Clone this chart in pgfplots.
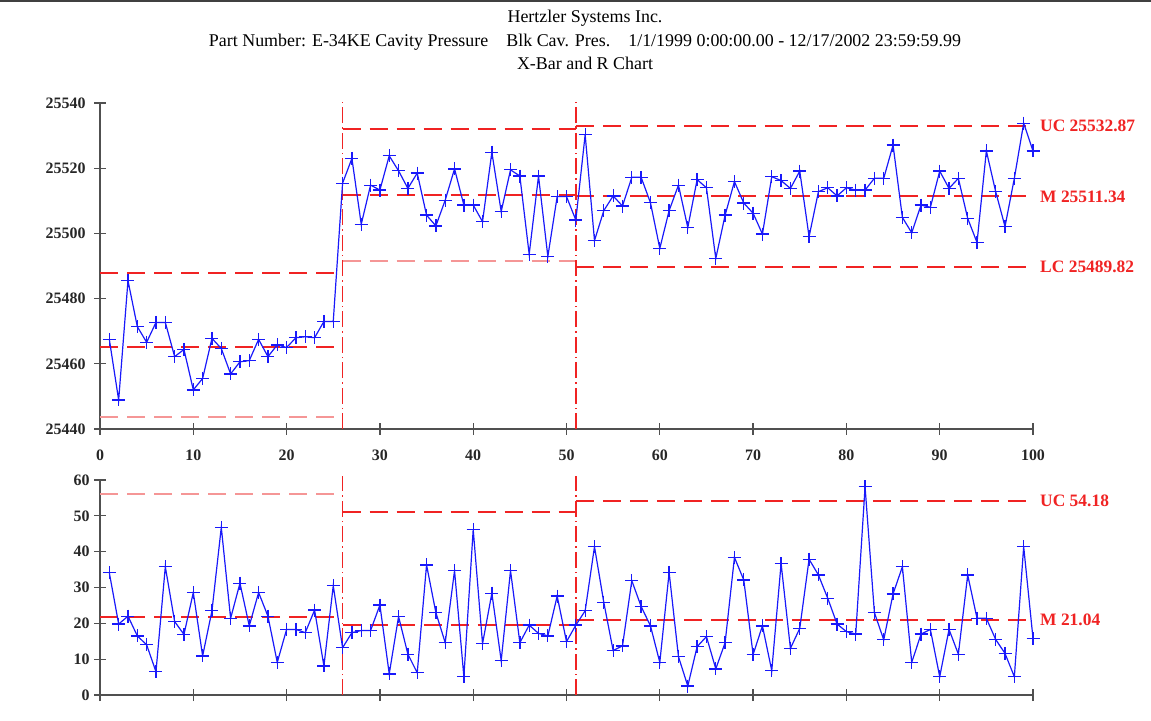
\documentclass[border=0pt]{standalone}
\usepackage{fontspec}
\setmainfont{Liberation Serif}
\usepackage{pgfplots}
\usepackage{pgfplotstable}
\pgfplotsset{compat=1.18}

\definecolor{cblue}{RGB}{25,25,250}
\definecolor{cred}{RGB}{240,35,35}
\definecolor{cpink}{RGB}{245,150,150}
\definecolor{caxis}{RGB}{80,80,80}

% X-bar values
\pgfplotstableread{
x y
1 25467.5
2 25448.9
3 25485.5
4 25471.4
5 25466.6
6 25472.7
7 25472.7
8 25462.2
9 25464.4
10 25452
11 25455.5
12 25467.8
13 25464.7
14 25456.9
15 25460.6
16 25461
17 25467.5
18 25462.2
19 25465.8
20 25465
21 25468
22 25468.3
23 25468
24 25473
25 25473
26 25515.4
27 25523
28 25502.8
29 25514.8
30 25513.3
31 25523.8
32 25519.2
33 25513.8
34 25518.5
35 25505.6
36 25502.3
37 25510.2
38 25519.8
39 25508.7
40 25508.7
41 25503.6
42 25524.9
43 25506.7
44 25519.5
45 25517.6
46 25493.6
47 25517.6
48 25492.9
49 25511.3
50 25511.3
51 25504.1
52 25530.3
53 25497.8
54 25507
55 25511.5
56 25508.4
57 25517.2
58 25517.2
59 25509.4
60 25495.4
61 25507
62 25514.8
63 25501.8
64 25516.5
65 25514
66 25492.3
67 25505.6
68 25515.9
69 25509.3
70 25506.2
71 25499.8
72 25517.4
73 25516.2
74 25513.8
75 25519.1
76 25499
77 25512.8
78 25514
79 25511.5
80 25514
81 25513.3
82 25513.3
83 25516.9
84 25516.9
85 25527.1
86 25504.9
87 25500.2
88 25508.7
89 25508
90 25519.1
91 25513.8
92 25516.9
93 25504.6
94 25497.2
95 25525.3
96 25512.8
97 25502.1
98 25516.9
99 25533.8
100 25525.3
}\xbardata

% Range values
\pgfplotstableread{
x y
1 34.1
2 19.8
3 22
4 16.5
5 14
6 6.5
7 35.8
8 20.5
9 16.9
10 28.6
11 10.9
12 23.5
13 46.8
14 21.4
15 31.2
16 19.3
17 28.6
18 22
19 9.1
20 18.3
21 18.3
22 17.4
23 23.7
24 8.1
25 30.5
26 13.2
27 17.4
28 18
29 18
30 25.1
31 5.9
32 21.9
33 11.4
34 6.2
35 36.3
36 23
37 14.6
38 34.7
39 5.1
40 46.2
41 14.3
42 28.4
43 9.6
44 34.7
45 14.6
46 19.5
47 17.2
48 16.5
49 27.6
50 14.9
51 19.5
52 23.5
53 41.4
54 25.8
55 12.4
56 13.7
57 31.9
58 24.7
59 19.3
60 9.1
61 34.2
62 10.7
63 2.5
64 13.5
65 16.3
66 7.3
67 14.6
68 38.4
69 32.1
70 11.3
71 19.3
72 6.8
73 36.7
74 13
75 18.6
76 37.9
77 33.5
78 27
79 19.8
80 17.7
81 17
82 58.1
83 23
84 15.4
85 28.2
86 35.8
87 9.1
88 17
89 18.3
90 5.1
91 18.3
92 11.4
93 33.5
94 21.4
95 21.4
96 15.5
97 11.6
98 5.1
99 41.4
100 15.8
}\rdata

\tikzset{
  lim/.style={cred, line width=2bp, dash pattern=on 18bp off 9bp},
  limpale/.style={cpink, line width=2bp, dash pattern=on 18bp off 9bp},
  vsep/.style={cred, line width=1.6bp, dash pattern=on 16bp off 4bp on 1.5bp off 4bp},
  stepl/.style={cred, line width=1.6bp},
  ser/.style={cblue, line width=1.2bp, mark=+, mark size=6.5bp,
    mark options={cblue, solid, line width=1.3bp}},
  lab/.style={anchor=west, inner sep=0pt, text=cred,
    font=\fontsize{17.5}{17.5}\selectfont\bfseries, xshift=7bp},
}
\pgfplotsset{
  spc/.style={
    scale only axis, width=933bp,
    axis x line*=bottom, axis y line*=left,
    xmin=0, xmax=100, xtick={0,10,...,100},
    scaled ticks=false,
    /pgf/number format/assume math mode=true,
    tick align=center, major tick length=12bp,
    axis line style={caxis, line width=1.3bp},
    tick style={caxis, line width=1.3bp},
    tick label style={font=\fontsize{16}{16}\selectfont\bfseries, text=black!85},
    yticklabel style={xshift=-5bp},
    xticklabel style={yshift=-11bp},
    clip=false,
  },
}

\begin{document}
\begin{tikzpicture}
\path[use as bounding box] (0,0) rectangle (1151bp,-721bp);
\draw[black!75, line width=2bp] (0,-1bp) -- (1151bp,-1bp);

\node[font=\fontsize{18}{18}\selectfont] at (585bp,-18bp) {Hertzler Systems Inc.};
\node[font=\fontsize{18}{18}\selectfont] at (585bp,-42bp) {Part Number: E-34KE Cavity Pressure\hspace{18bp}Blk Cav. Pres.\hspace{18bp}1/1/1999 0:00:00.00 - 12/17/2002 23:59:59.99};
\node[font=\fontsize{18}{18}\selectfont] at (585bp,-63bp) {X-Bar and R Chart};

% X-bar chart
\begin{axis}[spc, at={(100bp,-429bp)}, anchor=south west, height=326bp,
  ymin=25440, ymax=25540,
  ytick={25440,25460,25480,25500,25520,25540},
  yticklabels={25440,25460,25480,25500,25520,25540},
  xticklabels={0,10,20,30,40,50,60,70,80,90,100}]
\addplot[lim] coordinates {(0,25487.9) (26,25487.9)};
\addplot[lim] coordinates {(0,25465.2) (26,25465.2)};
\addplot[limpale] coordinates {(0,25443.6) (26,25443.6)};
\addplot[lim] coordinates {(26,25532.0) (51,25532.0)};
\addplot[lim] coordinates {(26,25511.8) (51,25511.8)};
\addplot[limpale] coordinates {(26,25491.6) (51,25491.6)};
\addplot[lim] coordinates {(51,25532.87) (100,25532.87)};
\addplot[lim] coordinates {(51,25511.34) (100,25511.34)};
\addplot[lim] coordinates {(51,25489.82) (100,25489.82)};
\addplot[stepl] coordinates {(51,25532.0) (51,25532.87)};
\addplot[stepl] coordinates {(51,25491.6) (51,25489.82)};
\addplot[vsep] coordinates {(26,25440) (26,25541)};
\addplot[vsep] coordinates {(51,25440) (51,25541)};
\addplot[ser] table[x=x, y=y] {\xbardata};
\node[lab] at (axis cs:100,25532.87) {UC 25532.87};
\node[lab] at (axis cs:100,25511.34) {M 25511.34};
\node[lab] at (axis cs:100,25489.82) {LC 25489.82};
\end{axis}

% R chart
\begin{axis}[spc, at={(100bp,-695bp)}, anchor=south west, height=215bp,
  ymin=0, ymax=60, ytick={0,10,...,60},
  yticklabel style={xshift=4bp},
  xticklabels={}]
\addplot[limpale] coordinates {(0,56.1) (26,56.1)};
\addplot[lim] coordinates {(0,21.9) (26,21.9)};
\addplot[lim] coordinates {(26,51.2) (51,51.2)};
\addplot[lim] coordinates {(26,19.5) (51,19.5)};
\addplot[lim] coordinates {(51,54.18) (100,54.18)};
\addplot[lim] coordinates {(51,21.04) (100,21.04)};
\addplot[stepl] coordinates {(51,51.2) (51,54.18)};
\addplot[stepl] coordinates {(51,19.5) (51,21.04)};
\addplot[vsep] coordinates {(26,0) (26,61)};
\addplot[vsep] coordinates {(51,0) (51,61)};
\addplot[ser] table[x=x, y=y] {\rdata};
\node[lab] at (axis cs:100,54.18) {UC 54.18};
\node[lab] at (axis cs:100,21.04) {M 21.04};
\end{axis}
\end{tikzpicture}
\end{document}
